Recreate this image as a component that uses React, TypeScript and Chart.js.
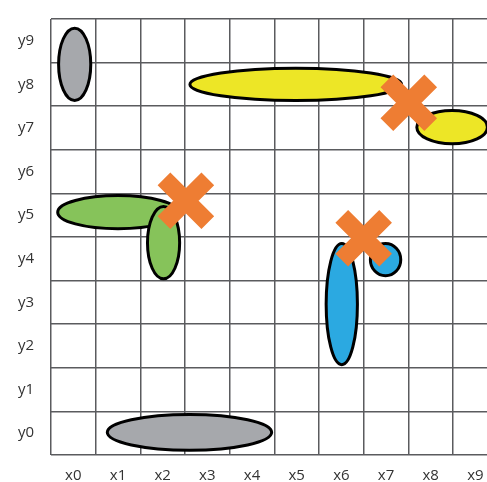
import React, { useEffect, useRef } from "react";
import { Chart, registerables } from "chart.js";

Chart.register(...registerables);

// Axis categories
const xCats = ["x0", "x1", "x2", "x3", "x4", "x5", "x6", "x7", "x8", "x9"];
const yCats = ["y0", "y1", "y2", "y3", "y4", "y5", "y6", "y7", "y8", "y9"];

// Ellipses (data units: centre, half-widths)
const ellipseCx = [0.03, 4.98, 8.48, 1.0, 2.02, 2.6, 6.01, 6.99];
const ellipseCy = [8.46, 8.0, 7.02, 5.07, 4.37, 0.02, 2.96, 3.98];
const ellipseRx = [0.36, 2.37, 0.79, 1.35, 0.36, 1.84, 0.35, 0.34];
const ellipseRy = [0.83, 0.37, 0.38, 0.38, 0.83, 0.41, 1.39, 0.37];
const ellipseColor = [
  "#A6A8AC",
  "#EDE626",
  "#EDE626",
  "#86C35A",
  "#86C35A",
  "#A6A8AC",
  "#2BA9E1",
  "#2BA9E1",
];

// Cross markers
const crossX = [7.51, 2.52, 6.5];
const crossY = [7.58, 5.33, 4.47];

const GRID = "#5a5b5e";

const ellipsePlugin = {
  id: "ellipses",
  beforeDatasetsDraw(chart: any) {
    const { ctx, scales } = chart;
    const xs = scales.x;
    const ys = scales.y;
    ctx.save();
    for (let i = 0; i < ellipseCx.length; i++) {
      const cx = xs.getPixelForValue(ellipseCx[i]);
      const cy = ys.getPixelForValue(ellipseCy[i]);
      const rx = Math.abs(xs.getPixelForValue(ellipseCx[i] + ellipseRx[i]) - cx);
      const ry = Math.abs(ys.getPixelForValue(ellipseCy[i] + ellipseRy[i]) - cy);
      ctx.beginPath();
      ctx.ellipse(cx, cy, rx, ry, 0, 0, Math.PI * 2);
      ctx.fillStyle = ellipseColor[i];
      ctx.fill();
      ctx.lineWidth = 3;
      ctx.strokeStyle = "#000";
      ctx.stroke();
    }
    ctx.restore();
  },
};

export default function App() {
  const ref = useRef<HTMLCanvasElement>(null);

  useEffect(() => {
    if (!ref.current) return;
    const chart = new Chart(ref.current, {
      type: "scatter",
      data: {
        datasets: [
          {
            data: crossX.map((x, i) => ({ x, y: crossY[i] })),
            pointStyle: "crossRot",
            pointRadius: 31,
            pointHoverRadius: 31,
            pointBorderWidth: 18,
            pointHoverBorderWidth: 18,
            pointBorderColor: "#EE7D33",
            pointBackgroundColor: "#EE7D33",
            showLine: false,
          },
        ],
      },
      options: {
        responsive: false,
        animation: false,
        events: [],
        layout: { autoPadding: false, padding: { top: 19, left: 0, right: 0, bottom: 0 } },
        plugins: {
          legend: { display: false },
          tooltip: { enabled: false },
        },
        scales: {
          x: {
            type: "linear",
            min: -0.5,
            max: 9.261,
            afterBuildTicks: (s: any) => {
              s.ticks = xCats.map((_, i) => ({ value: i }));
            },
            afterFit: (s: any) => {
              s.height = 27;
              s.paddingLeft = 0;
              s.paddingRight = 0;
              s.paddingTop = 0;
              s.paddingBottom = 0;
            },
            grid: { offset: true, color: GRID, lineWidth: 1.5, drawTicks: false },
            border: { display: false },
            ticks: {
              autoSkip: false,
              maxRotation: 0,
              padding: 12,
              color: "#333",
              font: { family: "'Open Sans', sans-serif", size: 15 },
              callback: (v: any) => xCats[v] ?? "",
            },
          },
          y: {
            type: "linear",
            min: -0.5,
            max: 9.5,
            afterBuildTicks: (s: any) => {
              s.ticks = yCats.map((_, i) => ({ value: i }));
            },
            afterFit: (s: any) => {
              s.width = 51;
              s.paddingLeft = 0;
              s.paddingRight = 0;
              s.paddingTop = 0;
              s.paddingBottom = 0;
            },
            grid: { offset: true, color: GRID, lineWidth: 1.5, drawTicks: false },
            border: { display: false },
            ticks: {
              autoSkip: false,
              padding: 17,
              color: "#333",
              font: { family: "'Open Sans', sans-serif", size: 15 },
              callback: (v: any) => yCats[v] ?? "",
            },
          },
        },
      },
      plugins: [ellipsePlugin],
    });
    return () => chart.destroy();
  }, []);

  return (
    <div style={{ position: "absolute", left: 0, top: 0, width: 487, height: 482 }}>
      <canvas ref={ref} width={487} height={482} />
    </div>
  );
}
